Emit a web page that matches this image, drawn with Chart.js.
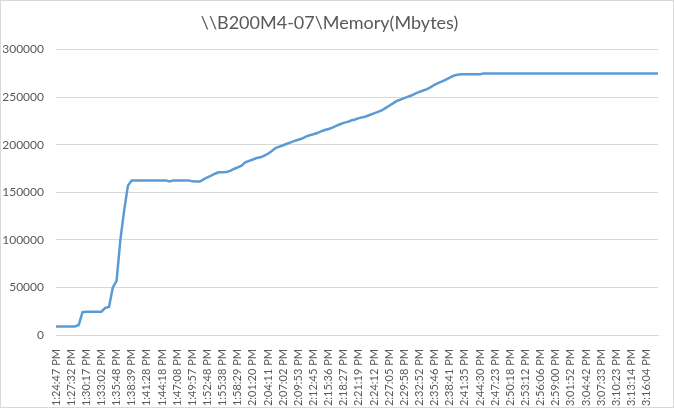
<!DOCTYPE html>
<html>
<head>
<meta charset="utf-8">
<script src="https://cdn.jsdelivr.net/npm/chart.js@4.4.1/dist/chart.umd.min.js"></script>
<style>
  html, body { margin: 0; padding: 0; background: #ffffff; }
  #wrap { position: relative; width: 674px; height: 408px; box-sizing: border-box; border: 1px solid #d9d9d9; }
  canvas { display: block; }
</style>
</head>
<body>
<div id="wrap"><canvas id="c" width="672" height="406"></canvas></div>
<script>
const chartTitle = "\\\\B200M4-07\\Memory(Mbytes)";
const tickLabels = [
  "1:24:47 PM","1:27:32 PM","1:30:17 PM","1:33:02 PM","1:35:48 PM","1:38:39 PM","1:41:28 PM","1:44:18 PM",
  "1:47:08 PM","1:49:57 PM","1:52:48 PM","1:55:38 PM","1:58:29 PM","2:01:20 PM","2:04:11 PM","2:07:02 PM",
  "2:09:53 PM","2:12:45 PM","2:15:36 PM","2:18:27 PM","2:21:19 PM","2:24:12 PM","2:27:05 PM","2:29:58 PM",
  "2:32:52 PM","2:35:46 PM","2:38:41 PM","2:41:35 PM","2:44:30 PM","2:47:23 PM","2:50:18 PM","2:53:12 PM",
  "2:56:06 PM","2:59:00 PM","3:01:52 PM","3:04:42 PM","3:07:33 PM","3:10:23 PM","3:13:14 PM","3:16:04 PM"
];
const samplesPerLabel = 4;
const memoryValues = [
  9000, 9000, 9000, 9000, 9000, 9000, 10500, 24000, 24500, 24500,
  24500, 24500, 24500, 28500, 29500, 50000, 57000, 100000, 131000, 157000,
  162500, 162500, 162500, 162500, 162500, 162500, 162500, 162500, 162500, 162500,
  161500, 162500, 162500, 162500, 162500, 162500, 161500, 161300, 161300, 163500,
  165800, 167500, 169500, 171000, 171200, 171300, 172500, 174500, 176300, 178000,
  181500, 183000, 184500, 186000, 186800, 188500, 190500, 193500, 196500, 198000,
  199500, 201000, 202500, 204000, 205300, 206500, 208500, 210000, 211000, 212300,
  214000, 215500, 216500, 218000, 219800, 221500, 223000, 224000, 225500, 226500,
  228000, 228800, 230000, 231500, 233000, 234500, 236000, 238500, 241000, 243500,
  246000, 247500, 249000, 250500, 252000, 254000, 255500, 257000, 258500, 260500,
  263000, 265000, 266500, 268500, 270500, 272500, 273500, 274000, 274000, 274000,
  274000, 274000, 274000, 275000, 275000, 275000, 275000, 275000, 275000, 275000,
  275000, 275000, 275000, 275000, 275000, 275000, 275000, 275000, 275000, 275000,
  275000, 275000, 275000, 275000, 275000, 275000, 275000, 275000, 275000, 275000,
  275000, 275000, 275000, 275000, 275000, 275000, 275000, 275000, 275000, 275000,
  275000, 275000, 275000, 275000, 275000, 275000, 275000, 275000, 275000, 275000
];
const yTicks = [0, 50000, 100000, 150000, 200000, 250000, 300000];

const points = memoryValues.map((v, i) => ({ x: i, y: v }));
const textColor = '#595959';
const fontFamily = 'Lato, "Open Sans", sans-serif';

new Chart(document.getElementById('c'), {
  type: 'line',
  data: {
    datasets: [{
      data: points,
      borderColor: '#5B9BD5',
      borderWidth: 2.5,
      pointRadius: 0,
      tension: 0,
      fill: false
    }]
  },
  options: {
    responsive: false,
    animation: false,
    layout: { padding: { left: 0, right: 15, top: 0, bottom: 0 } },
    plugins: {
      legend: { display: false },
      tooltip: { enabled: false },
      title: {
        display: true,
        text: chartTitle,
        color: textColor,
        font: { family: fontFamily, size: 18, weight: 'normal' },
        padding: { top: 11, bottom: 16 }
      }
    },
    scales: {
      x: {
        type: 'linear',
        min: 0,
        max: memoryValues.length - 1,
        grid: { display: false },
        border: { display: true, color: '#d9d9d9', width: 1 },
        afterBuildTicks: (scale) => {
          scale.ticks = tickLabels.map((_, k) => ({ value: k * samplesPerLabel }));
        },
        ticks: {
          autoSkip: false,
          maxRotation: 90,
          minRotation: 90,
          padding: 6,
          color: textColor,
          font: { family: fontFamily, size: 11 },
          callback: (v) => tickLabels[Math.round(v / samplesPerLabel)] || ''
        },
        afterFit: (scale) => { scale.height = 72; }
      },
      y: {
        min: 0,
        max: 300000,
        afterBuildTicks: (scale) => {
          scale.ticks = yTicks.map(v => ({ value: v }));
        },
        grid: { color: '#d9d9d9', lineWidth: 1, drawTicks: false },
        border: { display: false },
        ticks: {
          padding: 12,
          color: textColor,
          font: { family: fontFamily, size: 12 },
          callback: (v) => String(v)
        },
        afterFit: (scale) => { scale.width = 55; }
      }
    }
  }
});
</script>
</body>
</html>
